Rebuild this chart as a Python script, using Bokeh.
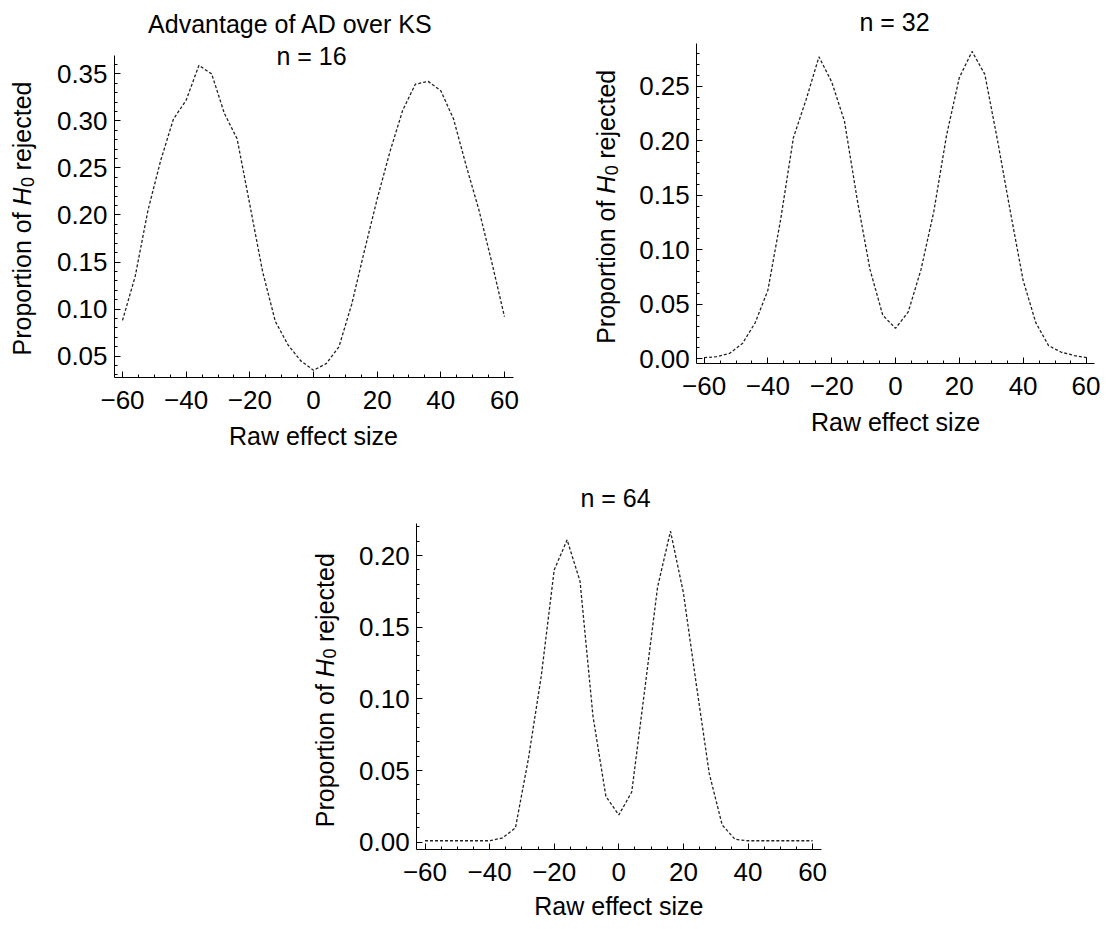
import numpy as np
from bokeh.plotting import figure
from bokeh.layouts import column, row, Spacer
from bokeh.models import (FixedTicker, PrintfTickFormatter, Label, Range1d,
                          ColumnDataSource, LinearAxis)
from bokeh.embed import file_html
from bokeh.resources import INLINE

# ---------------- data ----------------
effect = [-60, -56, -52, -48, -44, -40, -36, -32, -28, -24, -20, -16, -12, -8, -4, 0,
          4, 8, 12, 16, 20, 24, 28, 32, 36, 40, 44, 48, 52, 56, 60]

prop_n16 = [0.088, 0.135, 0.205, 0.258, 0.302, 0.322, 0.359, 0.350, 0.308, 0.281, 0.211,
            0.140, 0.087, 0.062, 0.045, 0.035, 0.042, 0.060, 0.105, 0.162, 0.217, 0.267,
            0.311, 0.339, 0.342, 0.332, 0.302, 0.252, 0.205, 0.150, 0.092]

prop_n32 = [0.001, 0.002, 0.005, 0.014, 0.033, 0.063, 0.128, 0.203, 0.238, 0.277, 0.254,
            0.218, 0.146, 0.082, 0.040, 0.028, 0.043, 0.082, 0.135, 0.205, 0.258, 0.282,
            0.261, 0.200, 0.135, 0.072, 0.033, 0.012, 0.006, 0.003, 0.001]

prop_n64 = [0.001, 0.001, 0.001, 0.001, 0.001, 0.001, 0.003, 0.010, 0.058, 0.116, 0.190,
            0.211, 0.182, 0.088, 0.032, 0.019, 0.035, 0.106, 0.178, 0.217, 0.174, 0.110,
            0.048, 0.012, 0.002, 0.001, 0.001, 0.001, 0.001, 0.001, 0.001]

x_ticks = [-60, -40, -20, 0, 20, 40, 60]
x_tick_labels = ["\u221260", "\u221240", "\u221220", "0", "20", "40", "60"]
x_minor = [-55, -50, -45, -35, -30, -25, -15, -10, -5, 5, 10, 15, 25, 30, 35, 45, 50, 55]

y_ticks_16 = [0.05, 0.10, 0.15, 0.20, 0.25, 0.30, 0.35]
y_ticks_32 = [0.00, 0.05, 0.10, 0.15, 0.20, 0.25]
y_ticks_64 = [0.00, 0.05, 0.10, 0.15, 0.20]

title_main = "Advantage of AD over KS"
titles = ["n = 16", "n = 32", "n = 64"]
x_label = "Raw effect size"

FONT = "Liberation Sans"
TICK_FS = 26
LAB_FS = 25
TITLE_FS = 25
LINE_COLOR = "#222222"


def minor_list(lo, hi):
    return [round(v, 2) for v in np.arange(lo, hi + 1e-9, 0.01)]


def add_ylabel(p, bx, by, fs):
    # "Proportion of H_0 rejected" rotated 90deg; (bx, by) = baseline x, start y (screen units)
    w1 = 5.725 * fs
    sp = 0.278 * fs
    wH = 0.722 * fs
    fs0 = round(fs * 0.7)
    w0 = 0.556 * fs0
    common = dict(x_units="screen", y_units="screen", angle=np.pi / 2,
                  text_font=FONT, text_color="black", text_baseline="alphabetic",
                  text_align="left")
    p.add_layout(Label(x=bx, y=by, text="Proportion of", text_font_size=f"{fs}px", **common))
    yh = by + w1 + sp
    p.add_layout(Label(x=bx, y=yh, text="H", text_font_size=f"{fs}px",
                       text_font_style="italic", **common))
    p.add_layout(Label(x=bx + 0.2 * fs, y=yh + wH + 0.5, text="0",
                       text_font_size=f"{fs0}px", **common))
    p.add_layout(Label(x=bx, y=yh + wH + w0 + sp, text="rejected",
                       text_font_size=f"{fs}px", **common))


def make_panel(series, W, H, xr, yr, x_bounds, y_bounds, y_ticks, y_minor):
    p = figure(width=W, height=H, x_range=Range1d(*xr), y_range=Range1d(*yr),
               output_backend="svg", toolbar_location=None,
               x_axis_location=None, y_axis_location=None, min_border=0)
    src = ColumnDataSource(dict(x=effect, y=series))
    p.line("x", "y", source=src, line_color=LINE_COLOR, line_width=1.3, line_dash="3 2")
    p.grid.visible = False
    p.outline_line_color = None
    p.background_fill_color = "white"
    p.border_fill_color = "white"

    xaxis = LinearAxis(fixed_location=y_bounds[0], bounds=x_bounds,
                       ticker=FixedTicker(ticks=x_ticks, minor_ticks=x_minor))
    xaxis.major_label_overrides = {t: l for t, l in zip(x_ticks, x_tick_labels)}
    yaxis = LinearAxis(fixed_location=x_bounds[0], bounds=y_bounds,
                       ticker=FixedTicker(ticks=y_ticks, minor_ticks=y_minor),
                       formatter=PrintfTickFormatter(format="%.2f"))
    for ax in (xaxis, yaxis):
        ax.axis_line_color = "black"
        ax.axis_line_width = 1
        ax.major_tick_line_color = "black"
        ax.minor_tick_line_color = "black"
        ax.major_tick_in = 6
        ax.major_tick_out = 0
        ax.minor_tick_in = 3
        ax.minor_tick_out = 0
        ax.major_label_text_font = FONT
        ax.major_label_text_font_size = f"{TICK_FS}px"
        ax.major_label_text_color = "black"
    xaxis.major_label_standoff = 13
    yaxis.major_label_standoff = 7
    p.add_layout(xaxis, "below")
    p.add_layout(yaxis, "left")
    return p


ROW1_H = 465
ROW2_H = 462
# Panel 1 (n = 16): canvas page [0,560] x [0,465]
p1 = make_panel(prop_n16, 560, ROW1_H, (-98.33, 77.60), (-0.06621, 0.42795),
                (-62.5, 62.8), (0.0273, 0.3695), y_ticks_16, minor_list(0.03, 0.36))
# Panel 2 (n = 32): canvas page [560,1100] x [0,465]
p2 = make_panel(prop_n32, 540, ROW1_H, (-105.02, 64.26), (-0.09789, 0.32872),
                (-62.3, 62.3), (-0.0046, 0.2890), y_ticks_32, minor_list(0.0, 0.28))
# Panel 3 (n = 64): canvas page [290,850] x [465,927]
p3 = make_panel(prop_n64, 560, ROW2_H, (-101.64, 71.73), (-0.05953, 0.26288),
                (-62.6, 62.6), (-0.0053, 0.2222), y_ticks_64, minor_list(0.0, 0.22))

lab = dict(x_units="screen", y_units="screen", text_font=FONT, text_color="black",
           text_align="center", text_baseline="alphabetic")

# titles
p1.add_layout(Label(x=290, y=442, text=title_main, text_font_size=f"{TITLE_FS}px", **lab))
p1.add_layout(Label(x=311, y=410, text=titles[0], text_font_size=f"{TITLE_FS}px", **lab))
p2.add_layout(Label(x=334, y=444, text=titles[1], text_font_size=f"{TITLE_FS}px", **lab))
p3.add_layout(Label(x=325, y=430, text=titles[2], text_font_size=f"{TITLE_FS}px", **lab))

# x labels (centered on x = 0)
xl = dict(x_units="data", y_units="screen", text_font=FONT, text_color="black",
          text_align="center", text_baseline="alphabetic", text_font_size=f"{LAB_FS}px")
p1.add_layout(Label(x=0, y=30, text=x_label, **xl))
p2.add_layout(Label(x=0, y=44, text=x_label, **xl))
p3.add_layout(Label(x=0, y=22, text=x_label, **xl))

# y labels (baseline x, start y in screen units)
add_ylabel(p1, 21.7, 110, LAB_FS)
add_ylabel(p2, 45.7, 121.7, LAB_FS)
add_ylabel(p3, 34.4, 100.3, LAB_FS)

layout = column(row(p1, p2), row(Spacer(width=290, height=ROW2_H), p3))

open("out.html", "w").write(file_html(layout, INLINE))
